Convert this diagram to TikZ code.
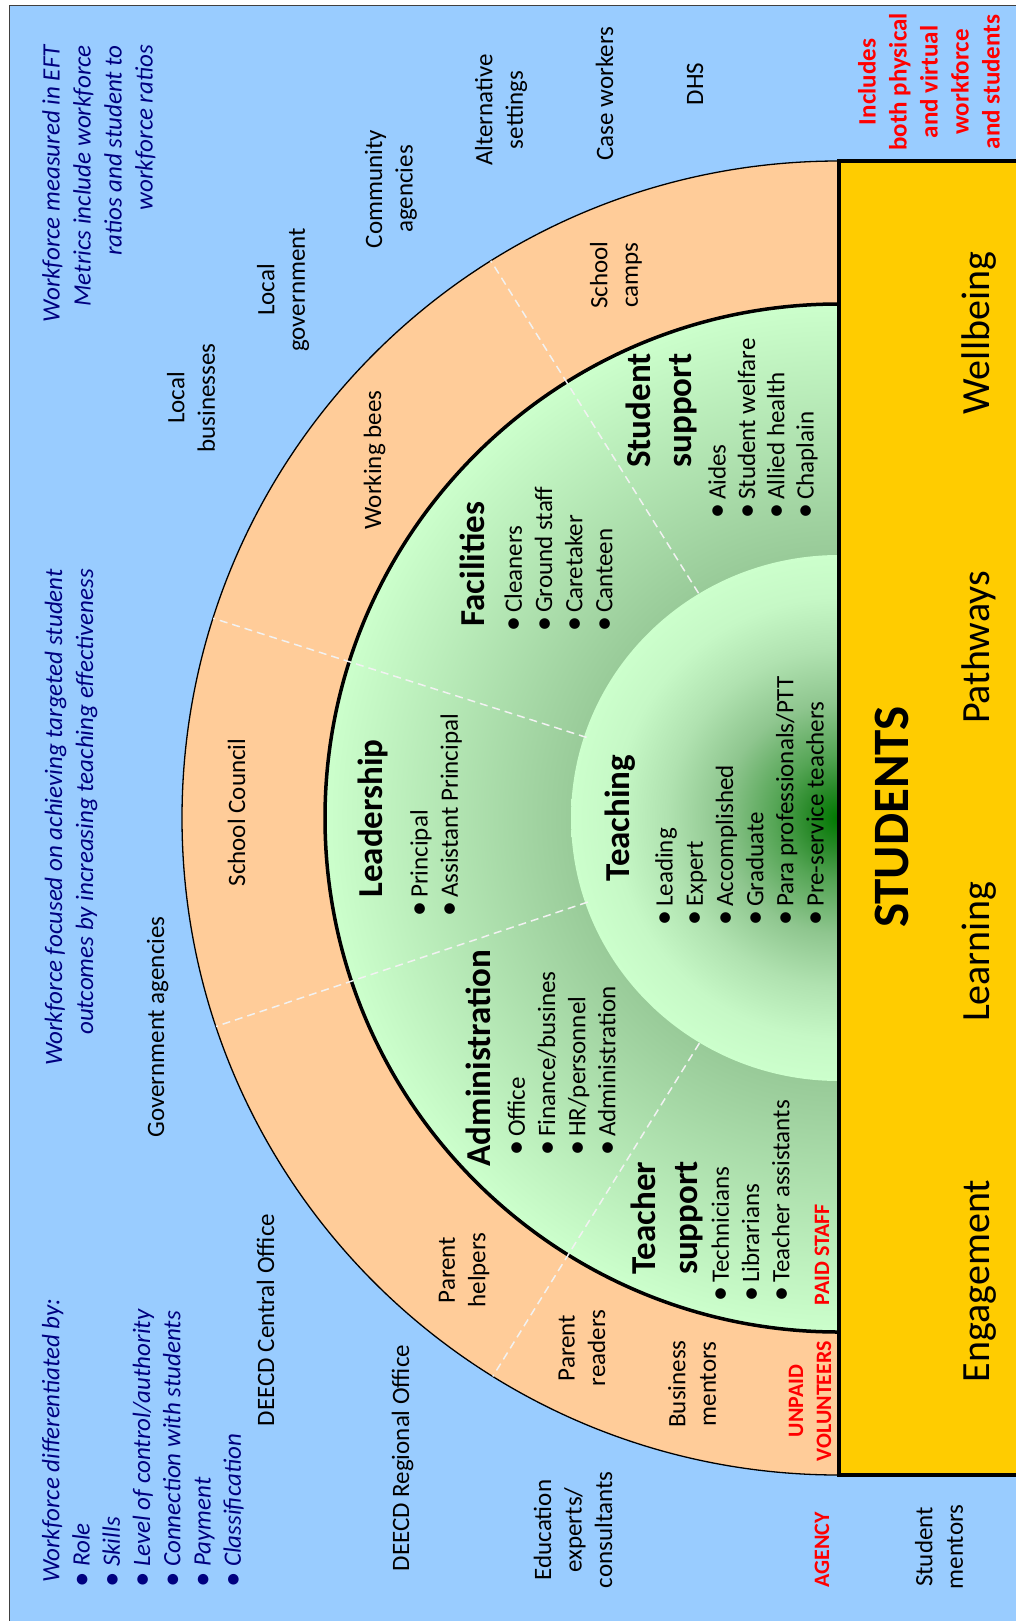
\documentclass[tikz,border=0pt]{standalone}
\usepackage{fontspec}
\usepackage{graphicx}
\setmainfont{Carlito}
\definecolor{bgblue}{HTML}{99CCFF}
\definecolor{ringorange}{HTML}{FFCC99}
\definecolor{studyellow}{HTML}{FFCC00}
\definecolor{lightg}{HTML}{CCFFCC}
\definecolor{ringdark}{RGB}{98,147,98}
\definecolor{tcz}{HTML}{007800}
\definecolor{tca}{HTML}{2A8A2A}
\definecolor{tcb}{HTML}{55A555}
\definecolor{tcc}{HTML}{8FC68F}
\definecolor{tcd}{HTML}{B0E2B0}
\definecolor{tce}{HTML}{C6F8C6}
\definecolor{navytext}{RGB}{0,0,128}
\definecolor{bordergray}{HTML}{404040}
\definecolor{dashwhite}{HTML}{F2F2F2}
\pgfdeclareradialshading{ringshade}{\pgfpointorigin}{color(0bp)=(ringdark); color(25bp)=(lightg); color(50bp)=(lightg)}
\pgfdeclareradialshading{teachshade}{\pgfpointorigin}{color(0bp)=(tcz); color(3bp)=(tca); color(6bp)=(tcb); color(11bp)=(tcc); color(16bp)=(tcd); color(21bp)=(tce); color(25bp)=(lightg); color(50bp)=(lightg)}
\newcommand{\bigdot}{\raisebox{-1pt}{\scalebox{1.2}{\textbullet}}}
\newcommand{\bul}{\makebox[23pt][c]{\bigdot}}
\newcommand{\nbul}{\makebox[6pt][c]{\bigdot}\hspace{10pt}}
\begin{document}
\begin{tikzpicture}[x=1pt,y=-1pt,
  lbl/.style={rotate=90,inner sep=0pt,align=center,font=\fontsize{25}{30.5}\selectfont},
  note/.style={rotate=90,inner sep=0pt,text=navytext,font=\fontsize{25}{31}\selectfont\itshape},
  redlbl/.style={rotate=90,inner sep=0pt,align=center,text=red,font=\fontsize{22}{28}\selectfont\bfseries},
  redbig/.style={rotate=90,inner sep=0pt,align=center,text=red,font=\fontsize{25}{31}\selectfont\bfseries},
  head/.style={rotate=90,inner sep=0pt,align=center,font=\fontsize{35}{41.5}\selectfont\bfseries},
  blist/.style={rotate=90,inner sep=0pt,align=left,anchor=west,font=\fontsize{25}{30.2}\selectfont},
  big/.style={rotate=90,inner sep=0pt,anchor=base,font=\fontsize{40}{48}\selectfont},
  divider/.style={draw=dashwhite,line width=1.5pt,dash pattern=on 8pt off 5pt}
]
\useasboundingbox (0,0) rectangle (1016,1621);
\fill[white] (0,0) rectangle (1016,1621);
\draw[bordergray,line width=1.5pt,fill=bgblue] (9.5,5.5) rectangle (1040,1630);
\coordinate (c) at (839,818);
% rings
\draw[line width=1.3pt,fill=ringorange] (c) circle (657pt);
\shade[shading=ringshade] (c) circle (514pt);
\draw[line width=3.5pt] (c) circle (514pt);
\shade[shading=teachshade] (c) ellipse [x radius=268pt, y radius=263pt];
\foreach \a in {122,162.3,198.5,238.2} \draw[divider] (c) ++(\a:265pt) -- ++(\a:392pt);
% students box
\draw[line width=4pt,fill=studyellow] (839,161.5) rectangle (1040,1475);

% notes
\node[note,anchor=east,align=right] (note1) at (99,45) {Workforce measured in EFT\\Metrics include workforce\\ratios and student to\\workforce ratios};
\node[note,anchor=east,align=right] (note2) at (71,569) {Workforce focused on achieving targeted student\\outcomes by increasing teaching effectiveness};
\node[note,anchor=west,align=left,font=\fontsize{25}{30.25}\selectfont\itshape] (note3) at (143,1583) {Workforce differentiated by:\\\nbul Role\\\nbul Skills\\\nbul Level of control/authority\\\nbul Connection with students\\\nbul Payment\\\nbul Classification};

% blue area labels
\node[lbl] (altset) at (501,110) {Alternative\\settings};
\node[lbl,anchor=base] (casew) at (613,93.5) {Case workers};
\node[lbl,anchor=base] (dhs) at (703,84) {DHS};
\node[lbl] (comm) at (391,189) {Community\\agencies};
\node[lbl] (locgov) at (283,290) {Local\\government};
\node[lbl] (locbus) at (191,398) {Local\\businesses};
\node[lbl,anchor=base] (govag) at (164,1027) {Government agencies};
\node[lbl,anchor=base] (deecdc) at (274,1320) {DEECD Central Office};
\node[lbl,anchor=base] (deecdr) at (409,1458) {DEECD Regional Office};
\node[lbl] (edu) at (573,1530) {Education\\experts/\\consultants};
\node[redlbl,anchor=base] (agency) at (829,1550) {AGENCY};
\node[lbl] (stment) at (939,1547) {Student\\mentors};
\node[redbig] (incl) at (929,82) {Includes\\both physical\\and virtual\\workforce\\and students};

% orange ring labels
\node[lbl] (scamps) at (616,275) {School\\camps};
\node[lbl,anchor=base] (wbees) at (381,460) {Working bees};
\node[lbl,anchor=base] (scouncil) at (245,812.5) {School Council};
\node[lbl] (phelp) at (464,1270) {Parent\\helpers};
\node[lbl] (pread) at (582,1348) {Parent\\readers};
\node[lbl] (bment) at (692,1384) {Business\\mentors};
\node[redlbl] (unpaid) at (810,1401) {UNPAID\\VOLUNTEERS};

% green ring
\node[head] (hss) at (661.5,410.5) {Student\\support};
\node[blist,font=\fontsize{25}{29.3}\selectfont] (lss) at (763,523) {\bul Aides\\\bul Student welfare\\\bul Allied health\\\bul Chaplain};
\node[head,anchor=base] (hfac) at (484.5,564) {Facilities};
\node[blist] (lfac) at (559,636) {\bul Cleaners\\\bul Ground staff\\\bul Caretaker\\\bul Canteen};
\node[head,anchor=base] (hlead) at (382.5,818.5) {Leadership};
\node[blist] (llead) at (436,921) {\bul Principal\\\bul Assistant Principal};
\node[head,anchor=base] (hadmin) at (490.5,1058) {Administration};
\node[blist] (ladmin) at (562,1160) {\bul Office\\\bul Finance/busines\\\bul HR/personnel\\\bul Administration};
\node[head] (hts) at (667,1218) {Teacher\\support};
\node[blist] (lts) at (751,1306) {\bul Technicians\\\bul Librarians\\\bul Teacher assistants};
\node[redlbl,anchor=base] (paid) at (829,1254.5) {PAID STAFF};
\node[head,anchor=base] (hteach) at (629.5,818) {Teaching};
\node[blist] (lteach) at (740,930) {\bul Leading\\\bul Expert\\\bul Accomplished\\\bul Graduate\\\bul Para professionals/PTT\\\bul Pre-service teachers};

% students box texts
\node[rotate=90,inner sep=0pt,anchor=base,font=\fontsize{51}{60}\selectfont\bfseries] (students) at (908,817) {STUDENTS};
\node[big] (wellb) at (989,333) {Wellbeing};
\node[big] (pathw) at (989,647.5) {Pathways};
\node[big] (learn) at (989,952) {Learning};
\node[big] (engag) at (989,1281) {Engagement};
\end{tikzpicture}
\end{document}
